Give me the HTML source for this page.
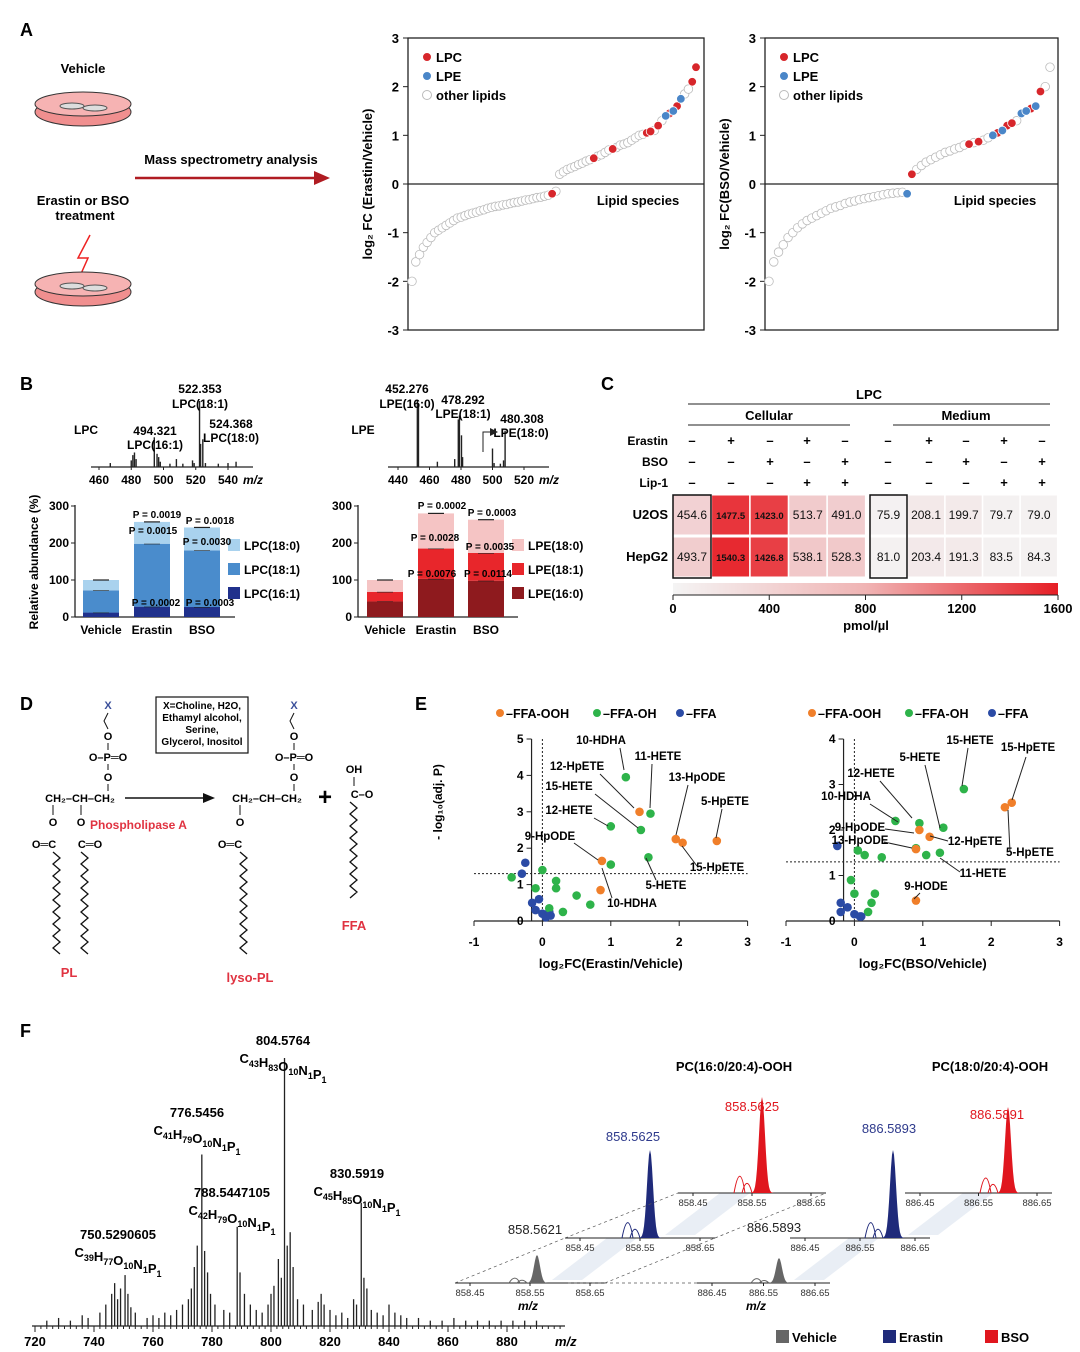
<!DOCTYPE html>
<html><head><meta charset="utf-8">
<style>
html,body{margin:0;padding:0;background:#fff;}
svg{display:block;font-family:"Liberation Sans",Arial,sans-serif;}
.b{font-weight:bold;}
</style></head>
<body>
<svg id="fig" width="1080" height="1352" viewBox="0 0 1080 1352" xmlns="http://www.w3.org/2000/svg">
<g>
<text x="20" y="36" font-size="18" class="b">A</text>
<text x="83" y="73" font-size="13" text-anchor="middle" class="b">Vehicle</text>
<ellipse cx="83" cy="112" rx="48" ry="14" fill="#f08f8f" stroke="#333"/>
<ellipse cx="83" cy="104" rx="48" ry="12" fill="#f6b3b3" stroke="#333"/>
<ellipse cx="72" cy="106" rx="12" ry="3" fill="#ddd" stroke="#555"/><ellipse cx="95" cy="108" rx="12" ry="3" fill="#ddd" stroke="#555"/>
<text x="83" y="205" font-size="13" text-anchor="middle" class="b">Erastin or BSO</text>
<text x="85" y="220" font-size="13" text-anchor="middle" class="b">treatment</text>
<path d="M90 235 L78 258 L88 258 L80 276" fill="none" stroke="#e22" stroke-width="1.5"/>
<ellipse cx="83" cy="292" rx="48" ry="14" fill="#f08f8f" stroke="#333"/>
<ellipse cx="83" cy="284" rx="48" ry="12" fill="#f6b3b3" stroke="#333"/>
<ellipse cx="72" cy="286" rx="12" ry="3" fill="#ddd" stroke="#555"/><ellipse cx="95" cy="288" rx="12" ry="3" fill="#ddd" stroke="#555"/>
<text x="231" y="164" font-size="13" text-anchor="middle" class="b">Mass spectrometry analysis</text>
<line x1="135" y1="178" x2="316" y2="178" stroke="#b01c22" stroke-width="2.5"/>
<polygon points="314,171 330,178 314,185" fill="#b01c22"/>
</g>
<g id="panelA1"></g>
<g id="panelA2"></g>
<g id="panelB"></g>
<g id="panelC"></g>
<g id="panelD"></g>
<g id="panelE"></g>
<g id="panelF"></g>
</svg>
<script>
const a1Values=[-2.0,-1.6,-1.45,-1.3,-1.2,-1.1,-1.0,-0.95,-0.9,-0.85,-0.8,-0.75,-0.7,-0.68,-0.65,-0.62,-0.6,-0.58,-0.55,-0.53,-0.5,-0.48,-0.46,-0.45,-0.43,-0.42,-0.4,-0.38,-0.37,-0.35,-0.33,-0.32,-0.3,-0.28,-0.27,-0.25,-0.23,-0.2,-0.15,0.2,0.25,0.3,0.33,0.36,0.4,0.43,0.47,0.5,0.53,0.57,0.6,0.65,0.7,0.72,0.75,0.8,0.82,0.85,0.9,0.95,1.0,1.02,1.05,1.08,1.1,1.2,1.3,1.4,1.45,1.5,1.6,1.75,1.85,1.95,2.1,2.4];
const a1Types=[0,0,0,0,0,0,0,0,0,0,0,0,0,0,0,0,0,0,0,0,0,0,0,0,0,0,0,0,0,0,0,0,0,0,0,0,0,1,0,0,0,0,0,0,0,0,0,0,1,0,0,0,0,1,0,0,0,0,0,0,0,0,1,1,0,1,0,2,1,2,1,2,0,0,1,1];
const a2Values=[-2.0,-1.6,-1.4,-1.25,-1.1,-1.0,-0.9,-0.82,-0.75,-0.7,-0.65,-0.6,-0.55,-0.5,-0.47,-0.44,-0.4,-0.37,-0.35,-0.32,-0.3,-0.28,-0.26,-0.24,-0.22,-0.2,-0.19,-0.18,-0.17,-0.2,0.2,0.3,0.38,0.45,0.5,0.55,0.6,0.65,0.68,0.72,0.75,0.8,0.82,0.85,0.87,0.9,0.95,1.0,1.05,1.1,1.2,1.25,1.3,1.45,1.5,1.55,1.6,1.9,2.0,2.4];
const a2Types=[0,0,0,0,0,0,0,0,0,0,0,0,0,0,0,0,0,0,0,0,0,0,0,0,0,0,0,0,0,2,1,0,0,0,0,0,0,0,0,0,0,0,1,0,1,0,0,2,1,2,1,1,0,2,2,1,2,1,0,0];
const aTicks=[3,2,1,0,-1,-2,-3];
const bGroups=["Vehicle","Erastin","BSO"];
const lpc161=[12,28,27], lpc181=[60,170,153], lpc180=[28,59,62];
const lpe160=[42,103,98], lpe181=[26,82,75], lpe180=[32,95,90];
const bTicks=[0,100,200,300];
const lpcPeaksMz=[467,480,481,482,483,494.3,496,497,498,504,508,512,518,519,522.35,523,524.37,526,534,540,545];
const lpcPeaksH=[6,10,18,22,12,45,20,15,8,5,12,5,10,6,100,35,42,6,5,6,8];
const lpePeaksMz=[452.28,453,465,476,478.29,479,480.31,481,500,501,505,507,508];
const lpePeaksH=[100,95,8,12,72,78,48,15,28,6,5,10,55];
const hmRows=["U2OS","HepG2"];
const hmU2OS=[454.6,1477.5,1423.0,513.7,491.0,75.9,208.1,199.7,79.7,79.0];
const hmHepG2=[493.7,1540.3,1426.8,538.1,528.3,81.0,203.4,191.3,83.5,84.3];
const cbTicks=[0,400,800,1200,1600];
const e1X=[1.22,1.42,1.58,1.44,1.0,1.95,2.05,2.55,1.55,0.87,1.0,0.85,0.2,0.2,0.5,0.0,-0.1,0.3,0.7,-0.25,-0.3,-0.05,-0.1,0.0,0.05,-0.15,0.1,-0.45,0.1,0.12];
const e1Y=[3.95,3.0,2.95,2.5,2.6,2.25,2.15,2.2,1.75,1.65,1.55,0.85,1.1,0.9,0.7,1.4,0.9,0.25,0.45,1.6,1.3,0.6,0.3,0.2,0.1,0.5,0.25,1.2,0.35,0.15];
const e1T=[1,0,1,1,1,0,0,0,1,0,1,0,1,1,1,1,1,1,1,2,2,2,2,2,2,2,2,1,1,2];
const e2X=[1.6,2.2,2.3,0.95,1.3,0.95,1.1,0.6,0.9,0.9,1.05,1.25,0.05,0.15,0.4,0.9,0.3,0.25,0.0,0.2,-0.25,-0.2,-0.1,0.0,0.1,-0.2,-0.05,0.08];
const e2Y=[2.9,2.5,2.6,2.15,2.05,2.0,1.85,2.2,1.6,1.58,1.45,1.5,1.55,1.45,1.4,0.45,0.6,0.4,0.6,0.2,1.65,0.4,0.3,0.15,0.1,0.2,0.9,0.1];
const e2T=[1,0,0,1,1,0,0,1,1,0,1,1,1,1,1,0,1,1,1,1,2,2,2,2,2,2,1,2];
const fMz=[724,728,732,736,738,742,744,746,747,748,749,750.53,751.5,752.5,754,758,760,762,764,766,768,770,772,773,774,775,776.55,777.5,778.5,779.5,781,784,786,788.54,789.5,791,793,795,797,799,800,801,802.5,803.5,804.58,805.5,806.5,807.5,809,811,814,816,817,818,820,822,824,826,828,829,830.59,831.5,832.5,834,836,838,840,842,844,846,850,854,858,862,866,870,874,878,882,886,890];
const fRel=[2,3,2,4,3,5,8,12,16,10,14,19,12,7,5,3,4,3,5,4,6,8,10,14,22,30,64,28,20,12,8,6,5,37,20,12,8,6,5,8,12,15,25,18,100,30,35,22,10,8,6,9,12,8,6,4,5,3,10,8,46,18,14,6,5,4,8,5,4,3,3,2,2,3,2,2,2,2,2,2,2];
const fTicks=[720,740,760,780,800,820,840,860,880];

const NS="http://www.w3.org/2000/svg";
function E(parent,tag,attrs,txt){const e=document.createElementNS(NS,tag);for(const k in attrs)e.setAttribute(k,attrs[k]);if(txt!==undefined)e.textContent=txt;parent.appendChild(e);return e;}
const RED="#d7262b",BLUE="#4a86c8";

function scatterA(g,x0,x1,vals,types,ylab,xs,xe){
  const yT=38,yB=330;const ys=v=>184-v*(yB-yT)/6;
  const r=E(g,'rect',{x:x0,y:yT,width:x1-x0,height:yB-yT,fill:'none',stroke:'#222','stroke-width':1.3});
  
  E(g,'line',{x1:x0,y1:ys(0),x2:x1,y2:ys(0),stroke:'#222','stroke-width':1.3});
  aTicks.forEach(t=>{E(g,'line',{x1:x0-5,y1:ys(t),x2:x0,y2:ys(t),stroke:'#222'});
    const tx=E(g,'text',{x:x0-9,y:ys(t)+5,'font-size':13,'text-anchor':'end','font-weight':'bold'},t);
    });
  const yl=E(g,'text',{transform:`translate(${x0-36},184) rotate(-90)`,'font-size':13,'text-anchor':'middle','font-weight':'bold'},ylab);
  
  const xl=E(g,'text',{x:x0+230,y:205,'font-size':13,'text-anchor':'middle','font-weight':'bold'},'Lipid species');
  
  const n=vals.length;
  [0,1,2].forEach(tp=>vals.forEach((v,i)=>{if(types[i]!==tp)return;
    const c=E(g,'circle',{cx:xs+i*(xe-xs)/(n-1),cy:ys(v),r:4.3,fill:tp==1?RED:tp==2?BLUE:'#fff',stroke:tp==0?'#bbb':'#fff','stroke-width':0.8});
    }));
  const leg=[['LPC',RED,'#fff'],['LPE',BLUE,'#fff'],['other lipids','#fff','#bbb']];
  leg.forEach((l,i)=>{const y=57+i*19;
    const c=E(g,'circle',{cx:x0+19,cy:y,r:4.5,fill:l[1],stroke:l[2]});
    
    const t=E(g,'text',{x:x0+28,y:y+5,'font-size':13,'font-weight':'bold'},l[0]);
    });
}
scatterA(document.getElementById('panelA1'),408,704,a1Values,a1Types,'log\u2082 FC (Erastin/Vehicle)',412,696);
scatterA(document.getElementById('panelA2'),765,1058,a2Values,a2Types,'log\u2082 FC(BSO/Vehicle)',769,1050);

(function(){
 const g=document.getElementById('panelB');
 E(g,'text',{x:20,y:390,'font-size':18,'font-weight':'bold'},'B');
 function spectrum(x0,mzs,hs,mzMin,mzMax,ticks,pxMin,pxMax,name){
   const base=467,sx=m=>pxMin+(m-mzMin)*(pxMax-pxMin)/(mzMax-mzMin);
   const ax=E(g,'line',{x1:x0,y1:base,x2:pxMax+25,y2:base,stroke:'#222','stroke-width':1.2});
   
   mzs.forEach((m,i)=>{const p=E(g,'line',{x1:sx(m),y1:base,x2:sx(m),y2:base-hs[i]*0.66,stroke:'#222','stroke-width':1.4});
     });
   ticks.forEach(t=>{E(g,'line',{x1:sx(t),y1:base,x2:sx(t),y2:base+3,stroke:'#222'});
     const tx=E(g,'text',{x:sx(t),y:base+17,'font-size':12,'font-weight':'bold','text-anchor':'middle'},t);
     });
   E(g,'text',{x:pxMax+15,y:base+17,'font-size':12,'font-weight':'bold','font-style':'italic'},'m/z');
 }
 spectrum(91,lpcPeaksMz,lpcPeaksH,460,540,[460,480,500,520,540],99,228,'lpc');
 spectrum(388,lpePeaksMz,lpePeaksH,440,520,[440,460,480,500,520],398,524,'lpe');
 const lab=[[86,434,'LPC'],[200,393,'522.353'],[200,408,'LPC(18:1)'],[155,435,'494.321'],[155,449,'LPC(16:1)'],[231,428,'524.368'],[231,442,'LPC(18:0)'],
  [363,434,'LPE'],[407,393,'452.276'],[407,408,'LPE(16:0)'],[463,404,'478.292'],[463,418,'LPE(18:1)'],[522,423,'480.308'],[521,437,'LPE(18:0)']];
 lab.forEach(l=>{const t=E(g,'text',{x:l[0],y:l[1],'font-size':12,'font-weight':'bold','text-anchor':'middle'},l[2]);});
 E(g,'path',{d:'M483 452 L483 432 L493 432',stroke:'#222',fill:'none'});E(g,'polygon',{points:'490,428 498,432 490,436',fill:'#222'});
 function bars(ax,s1,s2,s3,cols,legs,centers,pvals){
   const y0=617,ys=v=>y0-v*0.37;
   const a=E(g,'line',{x1:ax,y1:ys(300)-1,x2:ax,y2:y0,stroke:'#222','stroke-width':1.3});
   E(g,'line',{x1:ax,y1:y0,x2:ax+160,y2:y0,stroke:'#222','stroke-width':1.3});
   bTicks.forEach(t=>{E(g,'line',{x1:ax-4,y1:ys(t),x2:ax,y2:ys(t),stroke:'#222'});
     const tx=E(g,'text',{x:ax-6,y:ys(t)+4,'font-size':12,'font-weight':'bold','text-anchor':'end'},t);});
   bGroups.forEach((gr,i)=>{const cx=centers[i],w=36;let acc=0;
     [s1,s2,s3].forEach((s,j)=>{const r=E(g,'rect',{x:cx-w/2,y:ys(acc+s[i]),width:w,height:s[i]*0.37,fill:cols[j]});
       
       acc+=s[i];E(g,'line',{x1:cx-8,y1:ys(acc),x2:cx+8,y2:ys(acc),stroke:'#222','stroke-width':1.2});});
     const t=E(g,'text',{x:cx,y:634,'font-size':12,'font-weight':'bold','text-anchor':'middle'},gr);});
   legs.forEach((l,i)=>{const y=539+i*24;const r=E(g,'rect',{x:centers[2]+26,y:y,width:12,height:12,fill:cols[2-i]});
     const t=E(g,'text',{x:centers[2]+42,y:y+11,'font-size':12,'font-weight':'bold'},l);});
   pvals.forEach(p=>{const t=E(g,'text',{x:p[0],y:p[1],'font-size':10,'font-weight':'bold','text-anchor':'middle'},'P = '+p[2]);});
 }
 bars(75,lpc161,lpc181,lpc180,['#20318c','#4a8ccc','#a9d2ee'],['LPC(18:0)','LPC(18:1)','LPC(16:1)'],[101,152,202],
   [[157,518,'0.0019'],[153,534,'0.0015'],[210,524,'0.0018'],[207,545,'0.0030'],[156,606,'0.0002'],[210,606,'0.0003']]);
 bars(358,lpe160,lpe181,lpe180,['#8e1a1e','#e8262b','#f5c4c4'],['LPE(18:0)','LPE(18:1)','LPE(16:0)'],[385,436,486],
   [[442,509,'0.0002'],[492,516,'0.0003'],[435,541,'0.0028'],[490,550,'0.0035'],[432,577,'0.0076'],[488,577,'0.0114']]);
 const yt=E(g,'text',{transform:'translate(38,562) rotate(-90)','font-size':12,'font-weight':'bold','text-anchor':'middle'},'Relative abundance (%)');
 
})();

(function(){
 const g=document.getElementById('panelC');
 E(g,'text',{x:601,y:390,'font-size':18,'font-weight':'bold'},'C');
 E(g,'text',{x:869,y:399,'font-size':13,'font-weight':'bold','text-anchor':'middle'},'LPC');
 E(g,'line',{x1:688,y1:404,x2:1050,y2:404,stroke:'#222'});
 E(g,'text',{x:769,y:420,'font-size':13,'font-weight':'bold','text-anchor':'middle'},'Cellular');
 E(g,'text',{x:966,y:420,'font-size':13,'font-weight':'bold','text-anchor':'middle'},'Medium');
 E(g,'line',{x1:688,y1:425,x2:850,y2:425,stroke:'#222'});E(g,'line',{x1:893,y1:425,x2:1050,y2:425,stroke:'#222'});
 const colX=[692,731,770,807,845,888,929,966,1004,1042];
 const conds=[['Erastin',[0,1,0,1,0,0,1,0,1,0]],['BSO',[0,0,1,0,1,0,0,1,0,1]],['Lip-1',[0,0,0,1,1,0,0,0,1,1]]];
 conds.forEach((c,r)=>{const y=445+r*21;const t=E(g,'text',{x:668,y:y,'font-size':12,'font-weight':'bold','text-anchor':'end'},c[0]);
   c[1].forEach((v,i)=>E(g,'text',{x:colX[i],y:y,'font-size':13,'font-weight':'bold','text-anchor':'middle'},v?'+':'\u2013'));});
 const col=v=>{const f=Math.pow(Math.min(v/1600,1),1.45);const a=[244,244,244],b=[230,30,37];return `rgb(${a.map((x,i)=>Math.round(x+(b[i]-x)*f)).join(',')})`;};
 [hmU2OS,hmHepG2].forEach((row,r)=>{const y=495+r*42;
   const lb=E(g,'text',{x:668,y:y+24,'font-size':13,'font-weight':'bold','text-anchor':'end'},hmRows[r]);
   row.forEach((v,i)=>{const x0=i<5?673+i*38.6:870+(i-5)*37.6,w=i<5?38:37;
     const c=E(g,'rect',{x:x0,y:y,width:w,height:40,fill:col(v),stroke:'#fff','stroke-width':1});
     
     const t=E(g,'text',{x:x0+w/2,y:y+24,'font-size':v>1000?9.5:12,'font-weight':v>1000?'bold':'normal','text-anchor':'middle',fill:'#111'},v.toFixed(1));
     });});
 E(g,'rect',{x:673,y:495,width:38,height:83,fill:'none',stroke:'#111','stroke-width':1.5});
 E(g,'rect',{x:870,y:495,width:37,height:83,fill:'none',stroke:'#111','stroke-width':1.5});
 const d=E(g,'defs',{});const lg=E(d,'linearGradient',{id:'cb'});E(lg,'stop',{offset:0,'stop-color':'#f4f4f4'});E(lg,'stop',{offset:0.5,'stop-color':'#f0b4b4'});E(lg,'stop',{offset:1,'stop-color':'#e61e25'});
 const cb=E(g,'rect',{x:673,y:583,width:385,height:12,fill:'url(#cb)'});
 cbTicks.forEach(t=>{const x=673+t/1600*385;E(g,'line',{x1:x,y1:595,x2:x,y2:600,stroke:'#222'});
   const tx=E(g,'text',{x:x,y:613,'font-size':13,'font-weight':'bold','text-anchor':'middle'},t);});
 E(g,'line',{x1:673,y1:595,x2:1058,y2:595,stroke:'#222'});
 E(g,'text',{x:866,y:630,'font-size':13,'font-weight':'bold','text-anchor':'middle'},'pmol/\u00b5l');
})();

(function(){
 const g=document.getElementById('panelD');
 const T=(x,y,s,o)=>{const t=E(g,'text',Object.assign({x:x,y:y,'font-size':11,'font-weight':'bold','text-anchor':'middle'},o||{}),s);return t;};
 T(26,710,'D',{'font-size':18,'text-anchor':'start',x:20});
 function zig(x,y0,y1){let d=`M${x} ${y0}`;let k=0;for(let y=y0+6;y<=y1;y+=6){d+=` L${x+(k%2?0:7)} ${y}`;k++;}E(g,'path',{d:d,fill:'none',stroke:'#111','stroke-width':1.3});}
 function head(cx,top){T(cx,top+14,'X',{fill:'#3a4f9a'});E(g,'path',{d:`M${cx} ${top+18} l-4 8 l4 8`,fill:'none',stroke:'#111'});
   T(cx,top+45,'O');E(g,'line',{x1:cx,y1:top+48,x2:cx,y2:top+55,stroke:'#111'});T(cx,top+66,'O\u2013P\u2550O');
   E(g,'line',{x1:cx,y1:top+69,x2:cx,y2:top+75,stroke:'#111'});T(cx,top+86,'O');E(g,'line',{x1:cx,y1:top+89,x2:cx,y2:top+96,stroke:'#111'});}
 head(108,695);T(80,802,'CH\u2082\u2013CH\u2013CH\u2082');
 E(g,'line',{x1:53,y1:805,x2:53,y2:815,stroke:'#111'});E(g,'line',{x1:81,y1:805,x2:81,y2:815,stroke:'#111'});
 T(53,826,'O');T(81,826,'O');T(44,848,'O\u2550C');T(90,848,'C\u2550O');zig(53,852,955);zig(81,852,955);
 T(69,977,'PL',{fill:'#e03341','font-size':13});
 T(90,829,'Phospholipase A',{fill:'#e03341','text-anchor':'start','font-size':12});
 const bx=E(g,'rect',{x:156,y:697,width:92,height:56,fill:'none',stroke:'#111','stroke-width':1.2});
 T(202,709,'X=Choline, H2O,',{'font-size':10});T(202,721,'Ethamyl alcohol,',{'font-size':10});T(202,733,'Serine,',{'font-size':10});T(202,745,'Glycerol, Inositol',{'font-size':10});
 E(g,'line',{x1:125,y1:798,x2:205,y2:798,stroke:'#111','stroke-width':1.5});E(g,'polygon',{points:'203,793 215,798 203,803',fill:'#111'});
 head(294,695);T(267,802,'CH\u2082\u2013CH\u2013CH\u2082');E(g,'line',{x1:240,y1:805,x2:240,y2:815,stroke:'#111'});T(240,826,'O');T(230,848,'O\u2550C');zig(240,852,955);
 T(250,982,'lyso-PL',{fill:'#e03341','font-size':13});
 T(325,805,'+',{'font-size':24});T(354,773,'OH');E(g,'line',{x1:354,y1:777,x2:354,y2:786,stroke:'#111'});T(362,798,'C\u2013O');zig(350,802,900);
 T(354,930,'FFA',{fill:'#e03341','font-size':13});
})();

(function(){
 const g=document.getElementById('panelE');
 E(g,'text',{x:415,y:710,'font-size':18,'font-weight':'bold'},'E');
 const cols=['#f07f2a','#2eb34a','#2b4ba5'];
 function volcano(ox,yMax,xs,ys_,ts,xlab,legX,labels,cut){
   const xpx=v=>ox+(v+1)*68.4,ypx=v=>921-v*(182/yMax);
   E(g,'line',{x1:xpx(-1),y1:921,x2:xpx(3),y2:921,stroke:'#222','stroke-width':1.2});
   const axx=xpx(-0.1)-4;
   E(g,'line',{x1:axx,y1:ypx(yMax),x2:axx,y2:921,stroke:'#222','stroke-width':1.2});
   [-1,0,1,2,3].forEach(t=>{E(g,'line',{x1:xpx(t),y1:921,x2:xpx(t),y2:926,stroke:'#222'});
     const tx=E(g,'text',{x:xpx(t),y:946,'font-size':12,'font-weight':'bold','text-anchor':'middle'},t);});
   for(let t=0;t<=yMax;t++){E(g,'line',{x1:axx-5,y1:ypx(t),x2:axx,y2:ypx(t),stroke:'#222'});
     const tx=E(g,'text',{x:axx-8,y:ypx(t)+4,'font-size':12,'font-weight':'bold','text-anchor':'end'},t);}
   E(g,'line',{x1:xpx(0),y1:ypx(yMax),x2:xpx(0),y2:921,stroke:'#222','stroke-dasharray':'2,2'});
   E(g,'line',{x1:xpx(-1),y1:ypx(cut),x2:xpx(3),y2:ypx(cut),stroke:'#222','stroke-dasharray':'2,2'});
   xs.forEach((x,i)=>{const c=E(g,'circle',{cx:xpx(x),cy:ypx(ys_[i]),r:4.3,fill:cols[ts[i]]});});
   const xl=E(g,'text',{x:xpx(1),y:968,'font-size':13,'font-weight':'bold','text-anchor':'middle'},xlab);
   ['FFA-OOH','FFA-OH','FFA'].forEach((l,i)=>{const x=legX+[0,97,180][i];const c=E(g,'circle',{cx:x,cy:713,r:4,fill:cols[i]});
     const t=E(g,'text',{x:x+6,y:718,'font-size':12.5,'font-weight':'bold'},'\u2013'+l);});
   labels.forEach(l=>{const t=E(g,'text',{x:l[0],y:l[1],'font-size':11.5,'font-weight':'bold','text-anchor':'middle'},l[2]);
     if(l[3])E(g,'line',{x1:l[3],y1:l[4],x2:l[5],y2:l[6],stroke:'#222'});});
 }
 volcano(474,5,e1X,e1Y,e1T,'log\u2082FC(Erastin/Vehicle)',500,
  [[601,744,'10-HDHA',620,748,624,770],[658,760,'11-HETE',652,764,650,808],[577,770,'12-HpETE',600,774,634,808],[569,790,'15-HETE',595,794,638,828],[697,781,'13-HpODE',688,785,676,835],[725,805,'5-HpETE',722,809,716,838],[569,814,'12-HETE',594,818,608,826],[550,840,'9-HpODE',574,843,598,860],[717,871,'15-HpETE',697,866,682,846],[666,889,'5-HETE',656,880,646,858],[632,907,'10-HDHA',612,898,602,868]],1.3);
 const yl=E(g,'text',{transform:'translate(442,802) rotate(-90)','font-size':12,'font-weight':'bold','text-anchor':'middle'},'- log\u2081\u2080(adj. P)');
 volcano(786,4,e2X,e2Y,e2T,'log\u2082FC(BSO/Vehicle)',812,
  [[970,744,'15-HETE',968,748,962,786],[1028,751,'15-HpETE',1026,757,1012,800],[920,761,'5-HETE',925,765,940,828],[871,777,'12-HETE',880,781,912,818],[846,800,'10-HDHA',870,804,898,822],[860,831,'9-HpODE',885,829,914,833],[860,844,'13-HpODE',884,842,912,848],[975,845,'12-HpETE',948,841,930,836],[1030,856,'5-HpETE',1010,852,1008,810],[983,877,'11-HETE',960,872,940,858],[926,890,'9-HODE',920,893,914,899]],1.3);
})();

(function(){
 const g=document.getElementById('panelF');
 E(g,'text',{x:20,y:1037,'font-size':18,'font-weight':'bold'},'F');
 const base=1326,sx=m=>35+(m-720)*2.95,sy=r=>base-r*2.68;
 E(g,'line',{x1:32,y1:base,x2:565,y2:base,stroke:'#222','stroke-width':1.3});
 for(let m=720;m<=898;m+=2){E(g,'line',{x1:sx(m),y1:base,x2:sx(m),y2:base+(m%20==0?6:3),stroke:'#222'});}
 fTicks.forEach(t=>{const tx=E(g,'text',{x:sx(t),y:base+20,'font-size':13,'font-weight':'bold','text-anchor':'middle'},t);});
 E(g,'text',{x:555,y:base+20,'font-size':13,'font-weight':'bold','font-style':'italic'},'m/z');
 fMz.forEach((m,i)=>{const p=E(g,'line',{x1:sx(m),y1:base,x2:sx(m),y2:sy(fRel[i]),stroke:'#222','stroke-width':1.3});});
 const anns=[[283,1045,'804.5764','C43H83O10N1P1',1063],[197,1117,'776.5456','C41H79O10N1P1',1135],[232,1197,'788.5447105','C42H79O10N1P1',1215],[357,1178,'830.5919','C45H85O10N1P1',1196],[118,1239,'750.5290605','C39H77O10N1P1',1257]];
 anns.forEach(a=>{const t=E(g,'text',{x:a[0],y:a[1],'font-size':13,'font-weight':'bold','text-anchor':'middle'},a[2]);
   const parts=a[3].match(/[A-Z][a-z]?\d+/g);const f=E(g,'text',{x:a[0],y:a[4],'font-size':13,'font-weight':'bold','text-anchor':'middle'});
   parts.forEach(p=>{const el=p.match(/[A-Z][a-z]?/)[0],n=p.slice(el.length);E(f,'tspan',{},el);E(f,'tspan',{'font-size':9,dy:4},n);E(f,'tspan',{dy:-4},'');});});
 const insets=[[455,605,1283,537,28,'#666','858.5621',535,1234,'#222',[858.45,858.55,858.65],'vehicle-858'],
  [565,715,1238,650,88,'#1f2a7a','858.5625',633,1141,'#2e3a8c',[858.45,858.55,858.65],'erastin-858'],
  [678,826,1193,762,96,'#e0161e','858.5625',752,1111,'#e0161e',[858.45,858.55,858.65],'bso-858'],
  [697,830,1283,779,25,'#666','886.5893',774,1232,'#222',[886.45,886.55,886.65],'vehicle-886'],
  [790,930,1238,893,88,'#1f2a7a','886.5893',889,1133,'#2e3a8c',[886.45,886.55,886.65],'erastin-886'],
  [905,1052,1193,1008,86,'#e0161e','886.5891',997,1119,'#e0161e',[886.45,886.55,886.65],'bso-886']];
 insets.forEach((s,idx)=>{const[x0,x1,y,pk,h,c,lab,lx,ly,lc,tk,nm]=s;
   if(idx!==2&&idx!==5)E(g,'polygon',{points:`${pk+15},${y-3} ${pk+45},${y-3} ${pk+100},${y-45} ${pk+70},${y-45}`,fill:'#e3eaf3',opacity:0.8});
   const a=E(g,'line',{x1:x0,y1:y,x2:x1,y2:y,stroke:'#222'});
   tk.forEach((t,i)=>{const tx=x0+15+i*(x1-x0-30)/2;E(g,'line',{x1:tx,y1:y,x2:tx,y2:y+3,stroke:'#222'});E(g,'text',{x:tx,y:y+13,'font-size':9.5,'text-anchor':'middle',fill:'#333'},t.toFixed(2));});
   let d=`M${pk-12} ${y}`;for(let dx=-12;dx<=12;dx++){d+=` L${pk+dx} ${y-h*Math.exp(-dx*dx/18)}`;}d+=' Z';
   const p=E(g,'path',{d:d,fill:c});
   E(g,'path',{d:`M${pk-28} ${y} Q${pk-22} ${y-h*0.35} ${pk-17} ${y} M${pk-20} ${y} Q${pk-15} ${y-h*0.2} ${pk-10} ${y}`,fill:'none',stroke:c});
   const t=E(g,'text',{x:lx,y:ly,'font-size':13,'text-anchor':'middle',fill:lc},lab);});
 E(g,'text',{x:528,y:1310,'font-size':12,'font-weight':'bold','font-style':'italic','text-anchor':'middle'},'m/z');
 E(g,'text',{x:756,y:1310,'font-size':12,'font-weight':'bold','font-style':'italic','text-anchor':'middle'},'m/z');
 [[455,1283,565,1238],[605,1283,715,1238],[565,1238,678,1193],[715,1238,826,1193],[697,1283,565,1283]].forEach(l=>E(g,'line',{x1:l[0],y1:l[1],x2:l[2],y2:l[3],stroke:'#555','stroke-dasharray':'3,3','stroke-width':0.7}));
 E(g,'text',{x:734,y:1071,'font-size':13,'font-weight':'bold','text-anchor':'middle'},'PC(16:0/20:4)-OOH');
 E(g,'text',{x:990,y:1071,'font-size':13,'font-weight':'bold','text-anchor':'middle'},'PC(18:0/20:4)-OOH');
 [['Vehicle','#666',776],['Erastin','#1f2a7a',883],['BSO','#e0161e',985]].forEach(l=>{const r=E(g,'rect',{x:l[2],y:1330,width:13,height:13,fill:l[1]});
   const t=E(g,'text',{x:l[2]+16,y:1342,'font-size':13,'font-weight':'bold'},l[0]);});
})();
</script>
</body></html>
